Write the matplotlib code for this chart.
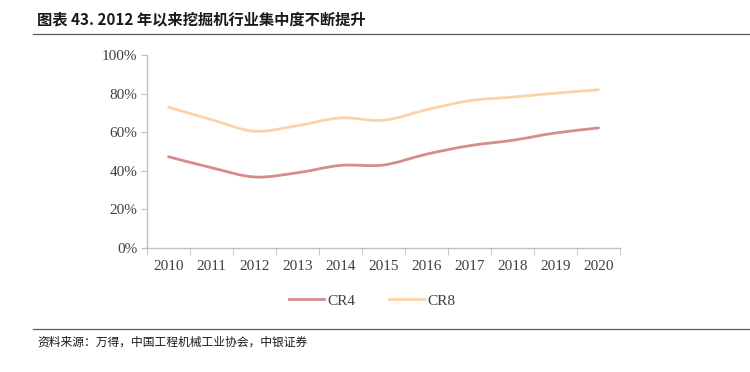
import numpy as np
import matplotlib
matplotlib.use("Agg")
import matplotlib.pyplot as plt
from matplotlib.path import Path
from matplotlib.patches import PathPatch
from matplotlib.lines import Line2D

years = ['2010', '2011', '2012', '2013', '2014', '2015', '2016', '2017', '2018', '2019', '2020']
cr4 = [47.3, 41.6, 36.8, 39.0, 42.8, 43.0, 48.6, 53.0, 55.8, 59.6, 62.2]
cr8 = [73.0, 66.5, 60.5, 63.4, 67.4, 66.2, 71.6, 76.3, 78.2, 80.2, 82.0]
series_names = ['CR4', 'CR8']
colors = ['#D58C8B', '#FCD3A9']

title = '图表 43. 2012 年以来挖掘机行业集中度不断提升'
source = '资料来源：万得，中国工程机械工业协会，中银证券'

cjk = ['Noto Sans CJK SC', 'DejaVu Sans']
serif = 'Liberation Serif'


def smooth_path(xs, ys):
    # Catmull-Rom style bezier through the points (like excel "smoothed line")
    xs = np.asarray(xs, float)
    ys = np.asarray(ys, float)
    verts = [(xs[0], ys[0])]
    codes = [Path.MOVETO]
    n = len(xs)
    for i in range(n - 1):
        p0 = (xs[max(i - 1, 0)], ys[max(i - 1, 0)])
        p1 = (xs[i], ys[i])
        p2 = (xs[i + 1], ys[i + 1])
        p3 = (xs[min(i + 2, n - 1)], ys[min(i + 2, n - 1)])
        c1 = (p1[0] + (p2[0] - p0[0]) / 6.0, p1[1] + (p2[1] - p0[1]) / 6.0)
        c2 = (p2[0] - (p3[0] - p1[0]) / 6.0, p2[1] - (p3[1] - p1[1]) / 6.0)
        verts += [c1, c2, p2]
        codes += [Path.CURVE4] * 3
    return Path(verts, codes)


fig = plt.figure(figsize=(7.5, 3.72), dpi=100)
ax = fig.add_axes([147 / 750, 1 - 248 / 372, (620 - 147) / 750, (248 - 55) / 372])

x = np.arange(len(years))
for vals, c in zip([cr4, cr8], colors):
    ax.add_patch(PathPatch(smooth_path(x, vals), facecolor='none', edgecolor=c,
                           lw=2.0, capstyle='round', joinstyle='round'))

ax.set_xlim(-0.5, len(years) - 0.5)
ax.set_ylim(0, 100)
ax.set_yticks(np.arange(0, 101, 20))
ax.set_yticklabels(['%d%%' % v for v in range(0, 101, 20)])
ax.set_xticks(x)
ax.set_xticklabels(years)
ax.set_xticks(np.arange(-0.5, len(years), 1), minor=True)
ax.tick_params(axis='x', which='major', length=0, pad=9)
ax.tick_params(axis='x', which='minor', length=5, color='#BFBFBF', direction='out')
ax.tick_params(axis='y', length=4, color='#BFBFBF', pad=3)
for lab in ax.get_xticklabels() + ax.get_yticklabels():
    lab.set_fontfamily(serif)
    lab.set_fontsize(11)
    lab.set_color('#404040')
for s in ['top', 'right']:
    ax.spines[s].set_visible(False)
for s in ['left', 'bottom']:
    ax.spines[s].set_color('#BFBFBF')
    ax.spines[s].set_linewidth(1.0)

handles = [Line2D([], [], color=c, lw=2.0) for c in colors]
leg = fig.legend(handles, series_names, loc='center', bbox_to_anchor=(372 / 750, 1 - 301 / 372),
                 ncol=2, frameon=False, handlelength=2.3, handletextpad=0.2, columnspacing=2.2,
                 prop={'family': serif, 'size': 11})
for t in leg.get_texts():
    t.set_color('#404040')

fig.text(37 / 750, 1 - 20 / 372, title, family=cjk, fontsize=11, fontweight='bold',
         va='center', ha='left', color='#1A1A1A')
fig.add_artist(Line2D([33 / 750, 1.0], [1 - 34 / 372] * 2, color='#595959', lw=0.9))
fig.add_artist(Line2D([33 / 750, 1.0], [1 - 329 / 372] * 2, color='#595959', lw=0.9))
fig.text(37 / 750, 1 - 342 / 372, source, family=cjk, fontsize=8.5, style='italic',
         va='center', ha='left', color='#1A1A1A')

fig.savefig('out.png', dpi=100, facecolor='white')
